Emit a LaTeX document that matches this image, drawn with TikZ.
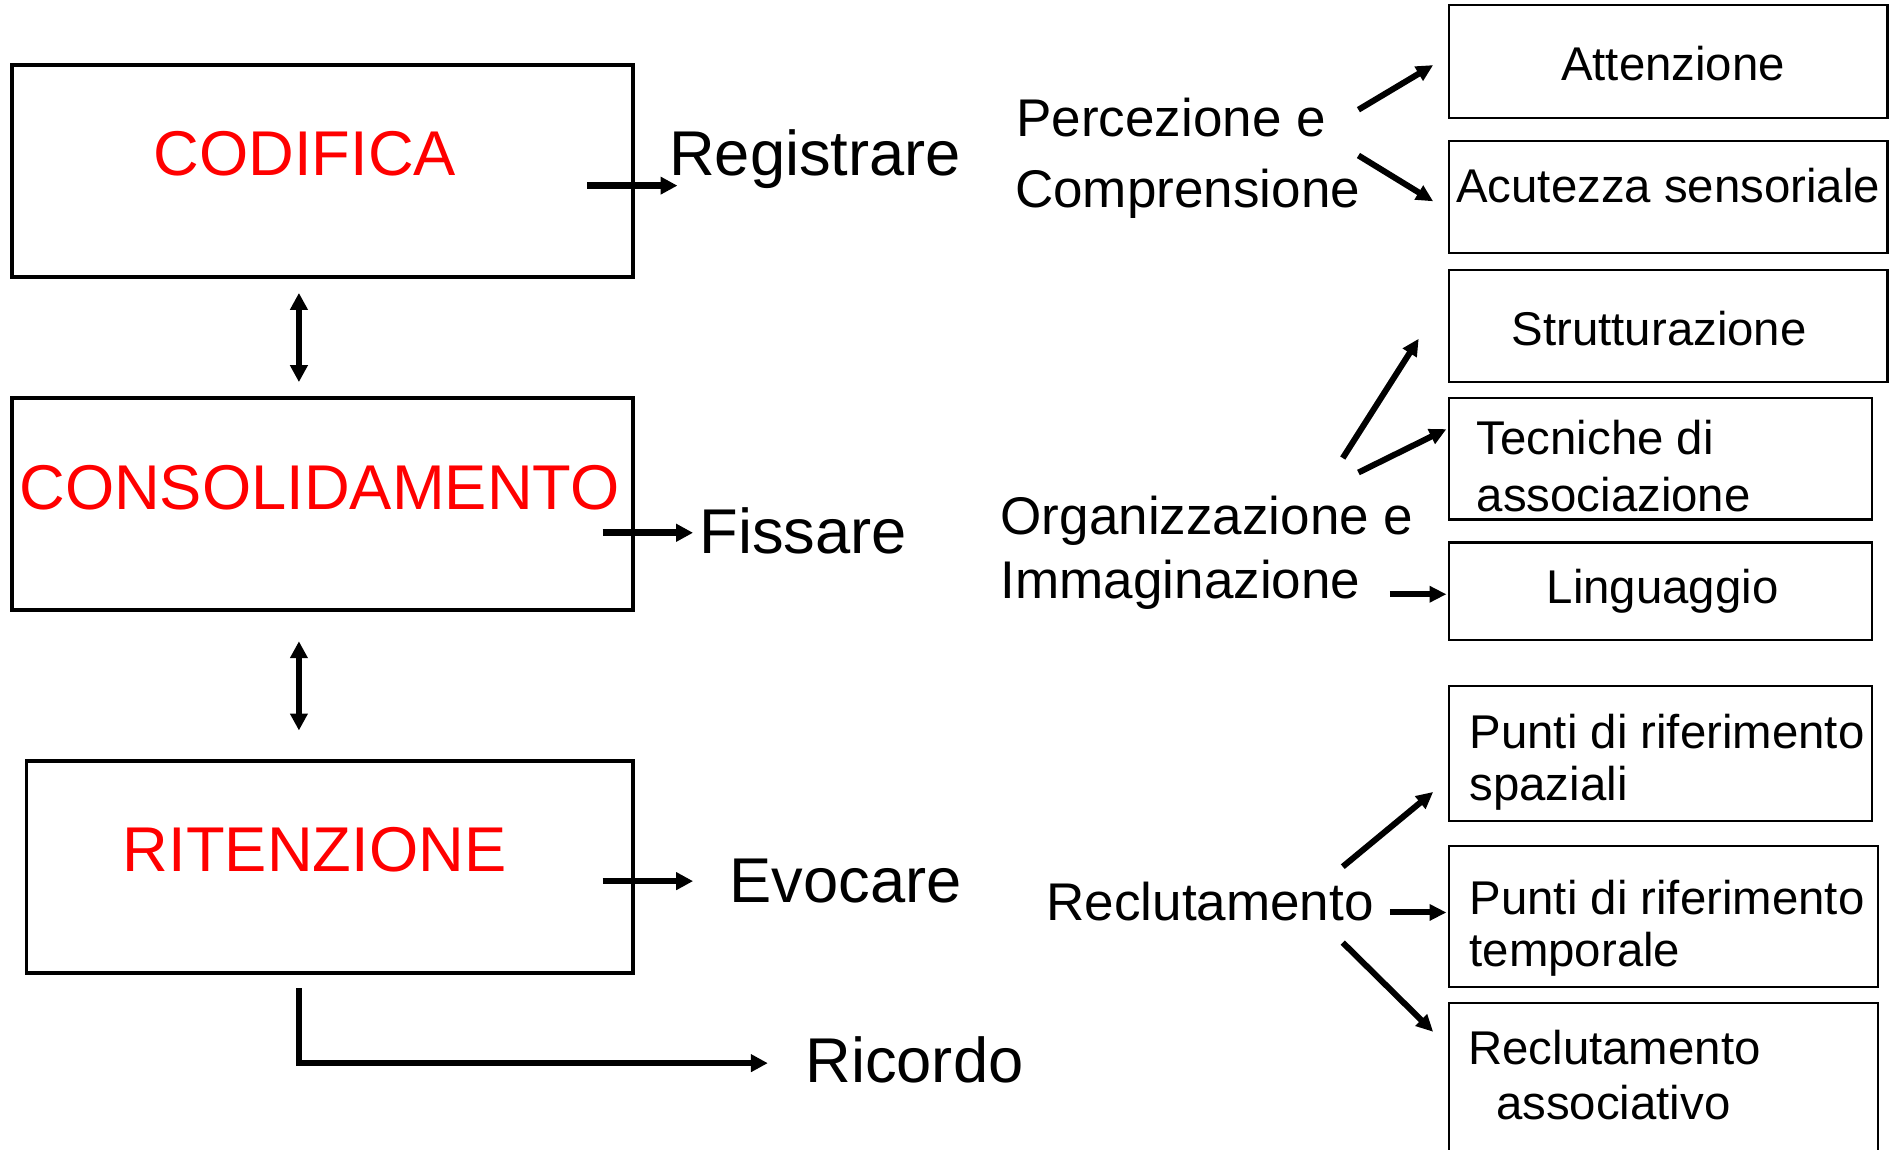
\documentclass[tikz,border=0pt]{standalone}
\usepackage{fontspec}
\setmainfont{Liberation Sans}
\usetikzlibrary{arrows.meta}
\definecolor{redtext}{RGB}{255,0,0}
\begin{document}
\begin{tikzpicture}[x=1pt,y=-1pt,
  bigbox/.style={draw, line width=3.2pt, inner sep=0pt, outer sep=0pt, anchor=north west},
  smallbox/.style={draw, line width=2pt, inner sep=0pt, outer sep=0pt, anchor=north west},
  bigtxt/.style={inner sep=0pt, font=\fontsize{52.5}{60}\selectfont},
  medtxt/.style={inner sep=0pt, anchor=base west, font=\fontsize{44}{52}\selectfont},
  smalltxt/.style={inner sep=0pt, anchor=base west, font=\fontsize{39.3}{46}\selectfont},
  thickarr/.style={line width=5.5pt, -{Triangle[length=14pt,width=14pt]}},
  diagarr/.style={line width=5pt, -{Triangle[length=14pt,width=13pt]}},
  dblarr/.style={line width=4.5pt, {Triangle[length=14pt,width=14pt]}-{Triangle[length=14pt,width=14pt]}}
]
\useasboundingbox (0,0) rectangle (1568,954);
\fill[white] (0,0) rectangle (1568,954);

% main boxes
\node[bigbox, minimum width=515pt, minimum height=176pt] (cod) at (10,54) {};
\node[bigbox, minimum width=515pt, minimum height=176pt] (cons) at (10,330) {};
\node[bigbox, minimum width=503pt, minimum height=176pt] (rit) at (22,631) {};

\node[bigtxt, anchor=base, text=redtext] (codt) at (253,146) {CODIFICA};
\node[bigtxt, anchor=base, text=redtext] (const) at (265,423) {CONSOLIDAMENTO};
\node[bigtxt, anchor=base, text=redtext] (ritt) at (261,723) {RITENZIONE};

\node[bigtxt, anchor=base west] (reg) at (555,146) {Registrare};
\node[bigtxt, anchor=base west] (fis) at (580,459.5) {Fissare};
\node[bigtxt, anchor=base west] (evo) at (605,749) {Evocare};
\node[bigtxt, anchor=base west] (ric) at (668,898) {Ricordo};

% middle labels
\node[medtxt] (perc) at (843,113.5) {Percezione e};
\node[medtxt] (comp) at (842,172.5) {Comprensione};
\node[medtxt] (org) at (830,443.5) {Organizzazione e};
\node[medtxt] (imm) at (830,496.5) {Immaginazione};
\node[medtxt] (recl) at (868,763.5) {Reclutamento};

% right boxes
\node[smallbox, minimum width=364pt, minimum height=94pt] (att) at (1202,4) {};
\node[smallbox, minimum width=364pt, minimum height=93pt] (acu) at (1202,117) {};
\node[smallbox, minimum width=364pt, minimum height=93pt] (str) at (1202,224) {};
\node[smallbox, minimum width=351pt, minimum height=101pt] (tec) at (1202,330) {};
\node[smallbox, minimum width=351pt, minimum height=81pt] (lin) at (1202,450) {};
\node[smallbox, minimum width=351pt, minimum height=112pt] (spa) at (1202,569) {};
\node[smallbox, minimum width=356pt, minimum height=117pt] (tem) at (1202,702) {};
\node[inner sep=0pt, outer sep=0pt, anchor=north west, minimum width=356pt, minimum height=122pt] (ass) at (1202,832) {};
\draw[line width=2pt] (ass.south west) -- (ass.north west) -- (ass.north east) -- (ass.south east);

\node[smalltxt, anchor=base] (attt) at (1388,67) {Attenzione};
\node[smalltxt] (acut) at (1208,168) {Acutezza sensoriale};
\node[smalltxt] (strt) at (1254,287) {Strutturazione};
\node[smalltxt] (tect1) at (1225,377) {Tecniche di};
\node[smalltxt] (tect2) at (1225,424) {associazione};
\node[smalltxt] (lint) at (1283,501) {Linguaggio};
\node[smalltxt] (spat1) at (1219,621) {Punti di riferimento};
\node[smalltxt] (spat2) at (1219,664) {spaziali};
\node[smalltxt] (temt1) at (1219,759) {Punti di riferimento};
\node[smalltxt] (temt2) at (1219,802) {temporale};
\node[smalltxt] (asst1) at (1218,883) {Reclutamento};
\node[smalltxt] (asst2) at (1241,929) {associativo};

% connector end points
\coordinate (r1) at (487,154); \coordinate (r2) at (562,154);
\coordinate (f1) at (500,442); \coordinate (f2) at (575,442);
\coordinate (e1) at (500,731); \coordinate (e2) at (575,731);
\coordinate (k1) at (248,820); \coordinate (k2) at (248,882); \coordinate (k3) at (637,882);
\coordinate (d1) at (248,243); \coordinate (d2) at (248,317);
\coordinate (d3) at (248,532); \coordinate (d4) at (248,606);
\coordinate (p1) at (1127,91);  \coordinate (p2) at (1189,54);
\coordinate (p3) at (1127,129); \coordinate (p4) at (1189,167);
\coordinate (o1) at (1114,380); \coordinate (o2) at (1177,281);
\coordinate (o3) at (1127,392); \coordinate (o4) at (1200,356);
\coordinate (o5) at (1153,493); \coordinate (o6) at (1200,493);
\coordinate (q1) at (1114,719); \coordinate (q2) at (1189,657);
\coordinate (q3) at (1153,757); \coordinate (q4) at (1200,757);
\coordinate (q5) at (1114,782); \coordinate (q6) at (1189,856);

\draw[thickarr] (r1) -- (r2);
\draw[thickarr] (f1) -- (f2);
\draw[thickarr] (e1) -- (e2);
\draw[thickarr, line width=4.5pt] (k1) -- (k2) -- (k3);
\draw[dblarr] (d1) -- (d2);
\draw[dblarr] (d3) -- (d4);
\draw[diagarr] (p1) -- (p2);
\draw[diagarr] (p3) -- (p4);
\draw[diagarr] (o1) -- (o2);
\draw[diagarr] (o3) -- (o4);
\draw[diagarr] (o5) -- (o6);
\draw[diagarr] (q1) -- (q2);
\draw[diagarr] (q3) -- (q4);
\draw[diagarr] (q5) -- (q6);
\end{tikzpicture}
\end{document}
